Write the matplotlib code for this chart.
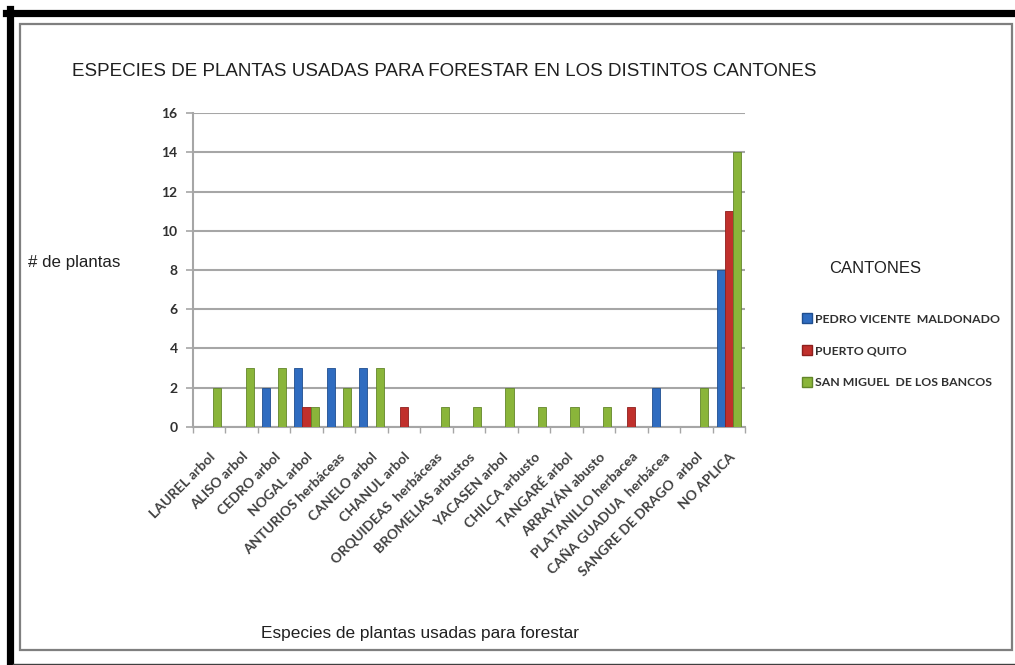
import numpy as np
import matplotlib
matplotlib.use('Agg')
import matplotlib.pyplot as plt
from matplotlib.lines import Line2D
from matplotlib.patches import Rectangle

especies = ['LAUREL arbol', 'ALISO arbol', 'CEDRO arbol', 'NOGAL arbol',
            'ANTURIOS herbáceas', 'CANELO arbol', 'CHANUL arbol',
            'ORQUIDEAS  herbáceas', 'BROMELIAS arbustos', 'YACASEN arbol',
            'CHILCA arbusto', 'TANGARÉ arbol', 'ARRAYÁN abusto',
            'PLATANILLO herbacea', 'CAÑA GUADUA  herbácea',
            'SANGRE DE DRAGO  arbol', 'NO APLICA']

pedro_vicente = [0, 0, 2, 3, 3, 3, 0, 0, 0, 0, 0, 0, 0, 0, 2, 0, 8]
puerto_quito = [0, 0, 0, 1, 0, 0, 1, 0, 0, 0, 0, 0, 0, 1, 0, 0, 11]
san_miguel = [2, 3, 3, 1, 2, 3, 0, 1, 1, 2, 1, 1, 1, 0, 0, 2, 14]

series = ['PEDRO VICENTE  MALDONADO', 'PUERTO QUITO', 'SAN MIGUEL  DE LOS BANCOS']
colores = ['#2F6CC0', '#C0302C', '#8AB53A']
bordes = ['#1F4E8F', '#8E1F1D', '#62862A']

plt.rcParams['font.family'] = ['Liberation Sans', 'DejaVu Sans']

fig = plt.figure(figsize=(10.15, 6.65), dpi=100)
ax = fig.add_axes([0.190, 0.358, 0.544, 0.472])

x = np.arange(len(especies))
ancho = 0.25
datos = [pedro_vicente, puerto_quito, san_miguel]
for i in range(3):
    ax.bar(x + (i - 1) * ancho, datos[i], ancho, color=colores[i],
           edgecolor=bordes[i], linewidth=0.6, label=series[i], zorder=3)

ax.set_xlim(-0.5, len(especies) - 0.5)
ax.set_ylim(0, 16)
ax.set_yticks(range(0, 17, 2))
ax.yaxis.grid(True, color='#A6A6A6', linewidth=1.5, zorder=0)
ax.set_axisbelow(True)

for s in ['top', 'right']:
    ax.spines[s].set_visible(False)
ax.spines['left'].set_color('#A6A6A6')
ax.spines['left'].set_linewidth(1.5)
ax.spines['bottom'].set_color('#A6A6A6')
ax.spines['bottom'].set_linewidth(1.5)

ax.set_xticks(x)
ax.set_xticklabels(especies, rotation=45, ha='right', rotation_mode='anchor',
                   fontsize=10, fontweight='bold', color='#404040', family='Lato')
ax.tick_params(axis='x', length=0, pad=17)
ax.set_xticks(np.arange(-0.5, len(especies), 1), minor=True)
ax.tick_params(axis='x', which='minor', length=4, color='#A6A6A6', width=1)
ax.tick_params(axis='y', length=5, color='#A6A6A6', width=1.2, pad=6,
               labelsize=10, labelcolor='#303030')
for t in ax.get_yticklabels():
    t.set_fontweight('bold')
    t.set_family('Lato')

fig.text(0.4374, 0.893, 'ESPECIES DE PLANTAS USADAS PARA FORESTAR EN LOS DISTINTOS CANTONES',
         ha='center', va='center', fontsize=13.5, color='#202020')
fig.text(0.028, 0.605, '# de plantas', ha='left', va='center', fontsize=12.2, color='#202020')
fig.text(0.414, 0.048, 'Especies de plantas usadas para forestar', ha='center', va='center',
         fontsize=12.4, color='#202020')
fig.text(0.862, 0.596, 'CANTONES', ha='center', va='center', fontsize=12, color='#202020')

manijas = [Line2D([0], [0], marker='s', color='w', markerfacecolor=colores[i],
                  markeredgecolor=bordes[i], markersize=7) for i in range(3)]
leg = fig.legend(manijas, series, loc='upper left', bbox_to_anchor=(0.779, 0.545),
                 frameon=False, handlelength=0.8, handletextpad=0.3, labelspacing=1.7,
                 prop={'size': 8.8, 'weight': 'bold', 'family': 'Lato'})
for t in leg.get_texts():
    t.set_color('#303030')

# marcos de la imagen
fig.add_artist(Rectangle((20 / 1015, 1 - 650 / 665), 992 / 1015, 626 / 665,
                         transform=fig.transFigure, fill=False,
                         edgecolor='#7F7F7F', linewidth=1.6))
fig.add_artist(Line2D([9.5 / 1015, 9.5 / 1015], [0, 1 - 9 / 665],
                      transform=fig.transFigure, color='black', linewidth=5.2))
fig.add_artist(Line2D([6 / 1015, 1], [1 - 12.5 / 665, 1 - 12.5 / 665],
                      transform=fig.transFigure, color='black', linewidth=5.2))
fig.add_artist(Line2D([13 / 1015, 1], [1 - 664 / 665, 1 - 664 / 665],
                      transform=fig.transFigure, color='#404040', linewidth=1))

fig.savefig('out.png', dpi=100, facecolor='white')
